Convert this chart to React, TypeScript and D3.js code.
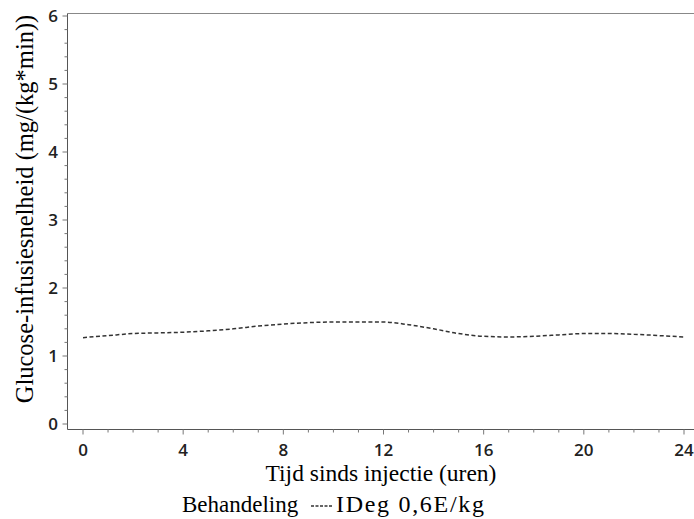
import React from "react";
import * as d3 from "d3";

const hours = [0,1,2,3,4,5,6,7,8,9,10,11,12,13,14,15,16,17,18,19,20,21,22,23,24];
const gir = [1.27,1.30,1.33,1.34,1.35,1.37,1.40,1.44,1.47,1.49,1.50,1.50,1.50,1.46,1.40,1.33,1.29,1.28,1.29,1.31,1.33,1.33,1.32,1.30,1.28];
const xTicks = [0,4,8,12,16,20,24];
const yTicks = [0,1,2,3,4,5,6];
const yTitle = "Glucose-infusiesnelheid (mg/(kg*min))";
const xTitle = "Tijd sinds injectie (uren)";
const legendTitle = "Behandeling";
const seriesName = "IDeg 0,6E/kg";

const SERIF = "Liberation Serif, Times New Roman, DejaVu Serif, serif";

export default function App() {
  const W = 694, H = 519;
  const x = d3.scaleLinear().domain([0, 24]).range([83, 684]);
  const y = d3.scaleLinear().domain([0, 6]).range([424, 16]);
  const axX = 67.5, axY = 429.5, topY = 13.5;
  const data = hours.map((h, i) => [h, gir[i]] as [number, number]);
  const line = d3.line<[number, number]>().x(d => x(d[0])).y(d => y(d[1])).curve(d3.curveMonotoneX);
  const minorX = d3.range(0, 24.01, 1);
  const minorY = d3.range(0, 6.001, 0.2);
  const tickStyle = { fontFamily: "Open Sans, sans-serif", fontSize: "17px", fontWeight: 600, fill: "#222" };
  const serifStyle = (size: number) => ({ fontFamily: SERIF, fontSize: size + "px", fill: "#000" });
  return (
    <svg width={W} height={H} style={{ position: "absolute", left: 0, top: 0, background: "#fff" }}>
      <line x1={axX} x2={W} y1={topY} y2={topY} stroke="#888" strokeWidth={1} />
      <line x1={axX} x2={axX} y1={topY} y2={axY} stroke="#555" strokeWidth={1} />
      <line x1={axX} x2={W} y1={axY} y2={axY} stroke="#555" strokeWidth={1} />
      {minorX.map(v => (
        <line key={"mx" + v} x1={x(v)} x2={x(v)} y1={axY} y2={axY + (v % 4 === 0 ? 5 : 3)} stroke="#777" strokeWidth={1} />
      ))}
      {minorY.map(v => (
        <line key={"my" + v} x1={axX} x2={axX - (Math.abs(v - Math.round(v)) < 1e-6 ? 5 : 3)} y1={y(v)} y2={y(v)} stroke="#777" strokeWidth={1} />
      ))}
      {xTicks.map(v => (
        <text key={"xt" + v} x={x(v)} y={456} textAnchor="middle" style={tickStyle}>{v}</text>
      ))}
      {yTicks.map(v => (
        <text key={"yt" + v} x={58} y={y(v) + 6} textAnchor="end" style={tickStyle}>{v}</text>
      ))}
      <path d={line(data) || ""} fill="none" stroke="#333" strokeWidth={1.5} strokeDasharray="4 2.5" />
      <text transform="translate(33,209) rotate(-90)" textAnchor="middle" style={serifStyle(24.5)}>{yTitle}</text>
      <text x={381} y={481} textAnchor="middle" style={serifStyle(23.5)}>{xTitle}</text>
      <text x={182} y={512} style={serifStyle(23)}>{legendTitle}</text>
      <line x1={311} x2={333} y1={506} y2={506} stroke="#333" strokeWidth={1.3} strokeDasharray="3 1.5" />
      <text x={336} y={512} textLength={148} lengthAdjust="spacing" style={serifStyle(24)}>{seriesName}</text>
    </svg>
  );
}
